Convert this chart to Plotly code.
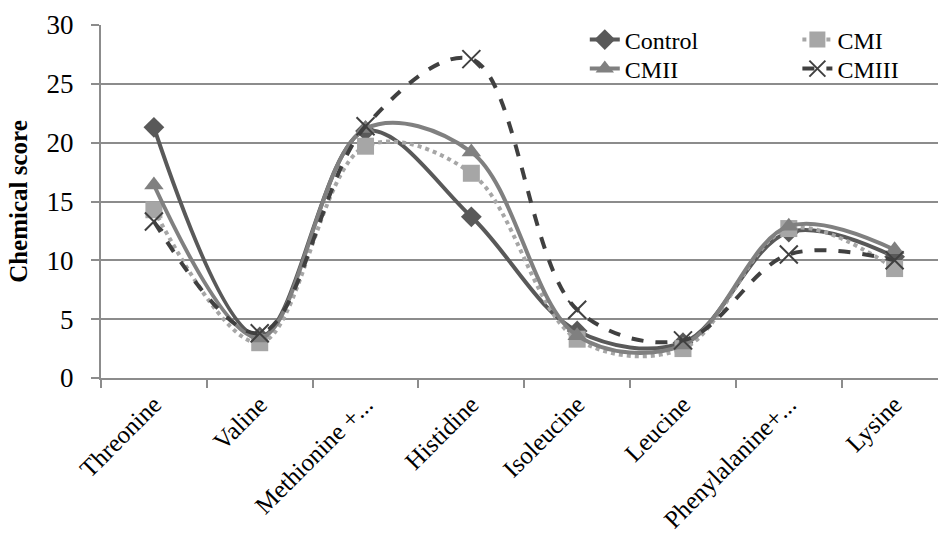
import plotly.graph_objects as go

categories = ["Threonine", "Valine", "Methionine +...", "Histidine", "Isoleucine",
              "Leucine", "Phenylalanine+...", "Lysine"]
control = [21.3, 3.5, 21.0, 13.7, 4.0, 3.0, 12.4, 10.3]
cmi = [14.3, 3.0, 19.7, 17.4, 3.3, 2.5, 12.7, 9.3]
cmii = [16.4, 3.4, 21.2, 19.2, 3.6, 2.8, 12.9, 10.9]
cmiii = [13.3, 3.8, 21.4, 27.1, 5.8, 3.2, 10.5, 10.0]

y_ticks = [0, 5, 10, 15, 20, 25, 30]

FONT = "Liberation Serif"

fig = go.Figure()

fig.add_trace(go.Scatter(
    x=categories, y=control, name="Control", mode="lines+markers",
    line=dict(color="#595959", width=4, shape="spline", smoothing=1),
    marker=dict(symbol="diamond", size=16, color="#595959"),
    legend="legend"))
fig.add_trace(go.Scatter(
    x=categories, y=cmi, name="CMI", mode="lines+markers",
    line=dict(color="#a6a6a6", width=4, shape="spline", smoothing=1, dash="dot"),
    marker=dict(symbol="square", size=17, color="#a6a6a6"),
    legend="legend2"))
fig.add_trace(go.Scatter(
    x=categories, y=cmii, name="CMII", mode="lines+markers",
    line=dict(color="#808080", width=4, shape="spline", smoothing=1),
    marker=dict(symbol="triangle-up", size=17, color="#808080"),
    legend="legend3"))
fig.add_trace(go.Scatter(
    x=categories, y=cmiii, name="CMIII", mode="lines+markers",
    line=dict(color="#404040", width=4, shape="spline", smoothing=1, dash="dash"),
    marker=dict(symbol="x-thin", size=18, color="#404040",
                line=dict(color="#404040", width=2)),
    legend="legend4"))

leg_common = dict(xanchor="left", yanchor="middle", bgcolor="rgba(0,0,0,0)",
                  borderwidth=0,
                  font=dict(family=FONT, size=24, color="#000000"))
col1, col2 = 0.578, 0.832
row1, row2 = 1 - (40 - 25) / 353, 1 - (69 - 25) / 353

fig.update_layout(
    width=938, height=538,
    margin=dict(l=101, r=0, t=25, b=160),
    paper_bgcolor="white", plot_bgcolor="white",
    font=dict(family=FONT, size=26, color="#000000"),
    showlegend=True,
    legend=dict(x=col1, y=row1, **leg_common),
    legend2=dict(x=col2, y=row1, **leg_common),
    legend3=dict(x=col1, y=row2, **leg_common),
    legend4=dict(x=col2, y=row2, **leg_common),
)

fig.update_xaxes(
    type="category", range=[-0.5, 7.41], automargin=False,
    showline=True, linecolor="#8c8c8c", linewidth=2,
    ticks="outside", tickson="boundaries", ticklen=8, tickcolor="#8c8c8c", tickwidth=2,
    tickangle=-45, tickfont=dict(family=FONT, size=25),
    showgrid=False, zeroline=False,
)
fig.update_yaxes(
    range=[0, 30], tickvals=y_ticks, ticktext=[str(v) for v in y_ticks],
    automargin=False,
    showline=True, linecolor="#8c8c8c", linewidth=2,
    ticks="outside", ticklen=8, tickcolor="#8c8c8c", tickwidth=2,
    ticklabelstandoff=12,
    showgrid=True, gridcolor="#8c8c8c", gridwidth=2, zeroline=False,
    tickfont=dict(family=FONT, size=27),
    title=dict(text="<b>Chemical score</b>", font=dict(family=FONT, size=25), standoff=12),
)

fig.write_html("out.html")
